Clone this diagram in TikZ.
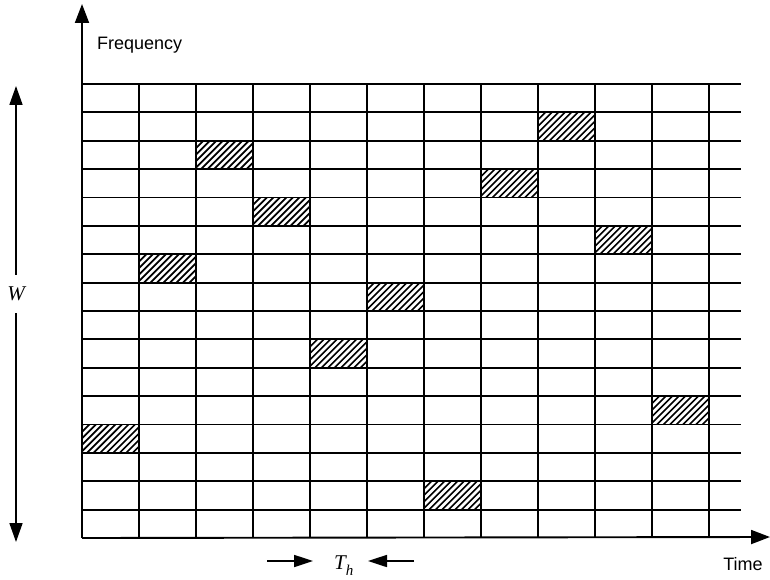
\documentclass[tikz,border=0pt]{standalone}
\usepackage{fontspec}
\setmainfont{Liberation Serif}
\newfontfamily\labelfont{Liberation Sans}
\usetikzlibrary{arrows.meta}
\begin{document}
\begin{tikzpicture}[x=1pt,y=-1pt,
  gridline/.style={line width=1.8pt},
  hatchline/.style={line width=1.6pt},
  axis/.style={line width=1.9pt,-{Triangle[length=19pt,width=14pt]}},
  warrow/.style={line width=1.7pt,-{Triangle[length=19pt,width=13pt]}},
  tharrow/.style={line width=1.7pt,-{Triangle[length=19pt,width=12pt]}},
  lbl/.style={font=\labelfont\fontsize{18}{20}\selectfont, inner sep=0pt},
  sym/.style={font=\fontsize{21}{24}\selectfont\itshape, inner sep=0pt}]
\useasboundingbox (0,0) rectangle (770,580);
% hatched cells
\foreach \c/\k in {0/12,1/6,2/2,3/4,4/9,5/7,6/14,7/3,8/1,9/5,10/11} {
  \begin{scope}
    \clip ({82+57*\c},{84+28.375*\k}) rectangle ++(57,28.375);
    \foreach \d in {-36,-29.5,...,60}
      \draw[hatchline] ({82+57*\c+\d},{84+28.375*(\k+1)+2}) -- ++(34,-34);
  \end{scope}
}
% grid
\foreach \i in {1,...,11}
  \draw[gridline] ({82+57*\i},84) -- ({82+57*\i},538);
\foreach \j in {0,...,15}
  \draw[gridline] (82,{84+28.375*\j}) -- (741,{84+28.375*\j});
% axes
\coordinate (o) at (82,538);
\coordinate (ytip) at (82,4);
\coordinate (xtip) at (770,537);
\draw[axis] (o) -- (ytip);
\draw[axis] (o) -- (xtip);
\node[lbl, anchor=west] (freq) at (97,45) {Frequency};
\node[lbl] (time) at (743,564) {Time};
% W arrow
\node[sym, minimum height=38pt] (w) at (16,294) {W};
\coordinate (wtop) at (16,86);
\coordinate (wbot) at (16,542);
\draw[warrow] (w.north) -- (wtop);
\draw[warrow] (w.south) -- (wbot);
% T_h
\node[sym, anchor=base west] (th) at (334,569) {T\raisebox{-0.3em}{\fontsize{15}{15}\selectfont h}};
\coordinate (thl) at (267,561);
\coordinate (thlt) at (313,561);
\coordinate (thr) at (414,561);
\coordinate (thrt) at (368,561);
\draw[tharrow] (thl) -- (thlt);
\draw[tharrow] (thr) -- (thrt);
\end{tikzpicture}
\end{document}
